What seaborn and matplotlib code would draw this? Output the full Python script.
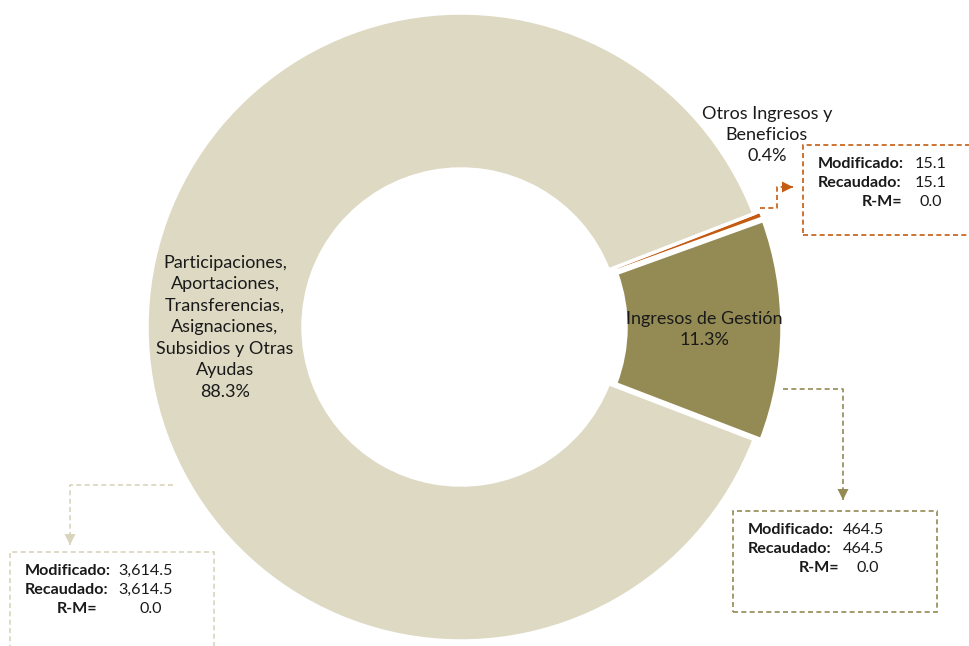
import matplotlib.pyplot as plt
import matplotlib.patches as mpatches
import numpy as np
import seaborn as sns

# datos (millones de pesos)
categorias = ["Ingresos de Gestión", "Otros Ingresos y Beneficios",
              "Participaciones, Aportaciones, Transferencias, Asignaciones, Subsidios y Otras Ayudas"]
etiquetas = ["Ingresos de Gestión", "Otros Ingresos y\nBeneficios",
             "Participaciones,\nAportaciones,\nTransferencias,\nAsignaciones,\nSubsidios y Otras\nAyudas"]
modificado = [464.5, 15.1, 3614.5]
recaudado = [464.5, 15.1, 3614.5]
colores = ["#948A54", "#C55A11", "#DDD9C3"]

sns.set_theme(style="white")
plt.rcParams["font.family"] = ["Lato", "DejaVu Sans"]
TXT = "#1a1a1a"
FS_ETQ = 13
FS_CAJA = 11.6

W, H = 969, 646
fig = plt.figure(figsize=(W / 100, H / 100), dpi=100)
ax = fig.add_axes([0, 0, 1, 1])

cx, cy = 461, H - 327
R, ancho = 314, 156
wedges, _ = ax.pie(modificado, colors=colores, startangle=-21, center=(cx, cy),
                   radius=R, explode=[7, 7, 0], frame=True,
                   wedgeprops=dict(width=ancho, edgecolor="white", linewidth=2.5))
ax.set_xlim(0, W)
ax.set_ylim(0, H)
ax.axis("off")

total = sum(modificado)
pct = [f"{v / total * 100:.1f}%" for v in modificado]

# etiquetas dentro del anillo
for i in (0, 2):
    w = wedges[i]
    th = np.deg2rad((w.theta1 + w.theta2) / 2)
    r = R - ancho / 2
    x = w.center[0] + r * np.cos(th)
    y = w.center[1] + r * np.sin(th)
    ax.text(x, y, etiquetas[i] + "\n" + pct[i], ha="center", va="center",
            fontsize=FS_ETQ, color=TXT, linespacing=1.42)

# etiqueta exterior, una línea por texto
for k, linea in enumerate((etiquetas[1] + "\n" + pct[1]).split("\n")):
    ax.text(767, H - (114 + 21 * k), linea, ha="center", va="center",
            fontsize=FS_ETQ, color=TXT)


def flecha(puntos, color):
    xs = [p[0] for p in puntos]
    ys = [H - p[1] for p in puntos]
    ax.plot(xs, ys, color=color, lw=1.2, ls=(0, (3, 2)), solid_capstyle="butt")
    x1, y1, x2, y2 = xs[-2], ys[-2], xs[-1], ys[-1]
    d = np.array([x2 - x1, y2 - y1], dtype=float)
    d /= np.hypot(*d)
    n = np.array([-d[1], d[0]])
    tip = np.array([x2, y2])
    base = tip - 11 * d
    tri = [tip, base + 5.5 * n, base - 5.5 * n]
    ax.add_patch(mpatches.Polygon(tri, closed=True, color=color, lw=0))


def caja(x0, top, alto, color, i, rm_der, val_x, rmval_x):
    ax.add_patch(mpatches.Rectangle((x0, H - top - alto), 204, alto, fill=False,
                                    edgecolor=color, lw=1.2, ls=(0, (3, 2))))
    filas = [top + 19, top + 38, top + 57]
    kw = dict(fontsize=FS_CAJA, color=TXT, va="center")
    ax.text(x0 + 15, H - filas[0], "Modificado:", fontweight="bold", ha="left", **kw)
    ax.text(x0 + 15, H - filas[1], "Recaudado:", fontweight="bold", ha="left", **kw)
    ax.text(x0 + rm_der, H - filas[2], "R-M=", fontweight="bold", ha="right", **kw)
    ax.text(x0 + val_x, H - filas[0], f"{modificado[i]:,.1f}", ha="left", **kw)
    ax.text(x0 + val_x, H - filas[1], f"{recaudado[i]:,.1f}", ha="left", **kw)
    ax.text(x0 + rmval_x, H - filas[2], f"{recaudado[i] - modificado[i]:,.1f}",
            ha="left", **kw)


# Otros Ingresos y Beneficios
flecha([(760, 208), (777, 208), (777, 187), (793, 187)], colores[1])
caja(803, 145, 90, colores[1], 1, 99, 112, 117)
# Ingresos de Gestión
flecha([(783, 389), (843, 389), (843, 500)], colores[0])
caja(733, 511, 101, colores[0], 0, 106, 110, 124)
# Participaciones
flecha([(173, 485), (70, 485), (70, 545)], "#D9D4BC")
caja(10, 552, 101, "#D9D4BC", 2, 87, 108, 130)

fig.savefig("out.png", dpi=100)
